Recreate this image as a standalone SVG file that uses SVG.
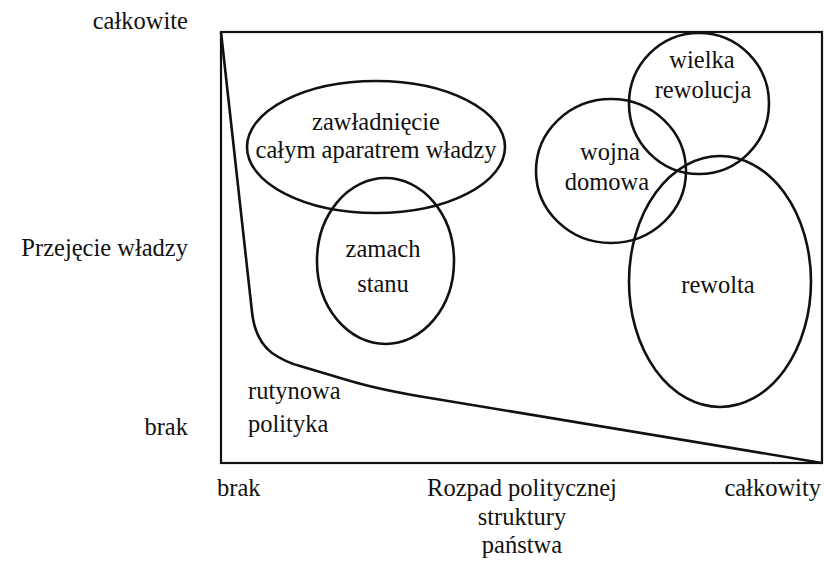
<svg xmlns="http://www.w3.org/2000/svg" width="824" height="570" viewBox="0 0 824 570">
<style>
text{font-family:"Liberation Serif","Times New Roman",serif;font-size:24.5px;fill:#111}
.c{text-anchor:middle}
.r{text-anchor:end}
.s{fill:none;stroke:#111;stroke-width:2.6}
</style>
<rect width="824" height="570" fill="#fff"/>
<g id="axes">
<rect x="221" y="32" width="601" height="431" fill="none" stroke="#111" stroke-width="2.2"/>
<text class="r" x="188" y="29">całkowite</text>
<text class="r" x="188" y="256">Przejęcie władzy</text>
<text class="r" x="188" y="435">brak</text>
<text x="217" y="496">brak</text>
<text class="c" x="522" y="496">Rozpad politycznej</text>
<text class="c" x="522" y="525">struktury</text>
<text class="c" x="522" y="553">państwa</text>
<text class="r" x="821" y="496">całkowity</text>
</g>
<g id="connectors">
<path class="s" d="M221,32 L252,312 Q255,340 272,353 Q285,362 300,366 L347,380 Q380,390 430,398 L822,463"/>
</g>
<g id="n-rutynowa">
<text x="248" y="399">rutynowa</text>
<text x="248" y="432">polityka</text>
</g>
<g id="n-zawladniecie">
<ellipse class="s" cx="376" cy="147" rx="129" ry="66"/>
<text class="c" x="376" y="130">zawładnięcie</text>
<text class="c" x="376" y="158">całym aparatrem władzy</text>
</g>
<g id="n-zamach">
<ellipse class="s" cx="385.5" cy="261" rx="68.5" ry="83"/>
<text class="c" x="383" y="257">zamach</text>
<text class="c" x="383" y="292">stanu</text>
</g>
<g id="n-wojna">
<ellipse class="s" cx="611" cy="171" rx="75" ry="72"/>
<text class="c" x="610" y="160">wojna</text>
<text class="c" x="607" y="190">domowa</text>
</g>
<g id="n-wielka">
<ellipse class="s" cx="699" cy="103.5" rx="70" ry="70.5"/>
<text class="c" x="702" y="68">wielka</text>
<text class="c" x="703" y="98">rewolucja</text>
</g>
<g id="n-rewolta">
<ellipse class="s" cx="720" cy="281.5" rx="91" ry="125.5"/>
<text class="c" x="718" y="293">rewolta</text>
</g>
</svg>
